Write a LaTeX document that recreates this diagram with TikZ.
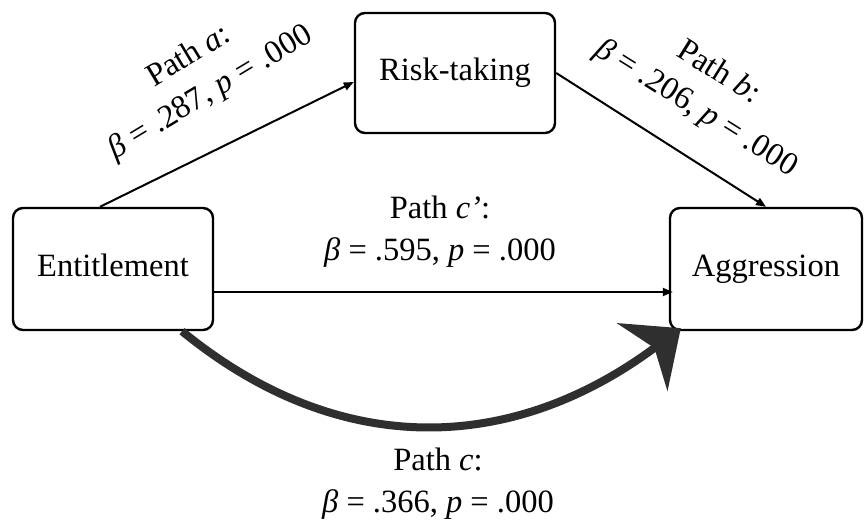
\documentclass[tikz,border=0pt]{standalone}
\usepackage{fontspec}
\setmainfont{Liberation Serif}
\usetikzlibrary{arrows.meta,calc}
\definecolor{thickgray}{HTML}{2F2F2F}
\tikzset{
  box/.style={draw, line width=2.4pt, rounded corners=10pt, inner sep=0pt,
    text height=21pt, text depth=6pt,
    font=\fontsize{32.5}{42}\selectfont},
  lbl/.style={inner sep=0pt, align=center, font=\fontsize{32.5}{42}\selectfont},
  thinarrow/.style={line width=2pt, -{Triangle[length=10pt,width=8pt]}},
  thickarrow/.style={line width=8pt, thickgray, -{Stealth[length=48pt,width=84pt,inset=15pt]}}
}
\begin{document}
\begin{tikzpicture}[x=1pt,y=-1pt]
\useasboundingbox[fill=white] (0,0) rectangle (864,521);
\node[box, minimum width=200pt, minimum height=120pt] (risk) at (455,73) {Risk-taking};
\node[box, minimum width=200pt, minimum height=122pt] (ent) at (113,269) {Entitlement};
\node[box, minimum width=192pt, minimum height=122pt] (agg) at (766,269) {Aggression};
\coordinate (astart) at ($(ent.north)+(-13,0)$);
\coordinate (aend) at ($(risk.west)+(0,9)$);
\coordinate (cpstart) at ($(ent.east)+(0,23)$);
\coordinate (cpend) at ($(agg.west)+(4,23)$);
\coordinate (cstart) at ($(ent.south)+(69,0)$);
\coordinate (cend) at ($(agg.south west)+(12,-3)$);
\draw[thinarrow] (astart) -- (aend);
\draw[thinarrow] (risk.east) -- (agg.north);
\draw[thinarrow] (cpstart) -- (cpend);
\draw[thickarrow] (cstart) .. controls (342,462) and (515,452) .. (cend);
\node[lbl, rotate=31] (la) at (200,75) {Path \textit{a}:\\\textit{β} = .287, \textit{p} = .000};
\node[lbl, rotate=-32] (lb) at (707,91) {Path \textit{b}:\\\textit{β} = .206, \textit{p} = .000};
\node[lbl] (lcp) at (440,232) {Path \textit{c’}:\\\textit{β} = .595, \textit{p} = .000};
\node[lbl] (lc) at (438,484) {Path \textit{c}:\\\textit{β} = .366, \textit{p} = .000};
\end{tikzpicture}
\end{document}
